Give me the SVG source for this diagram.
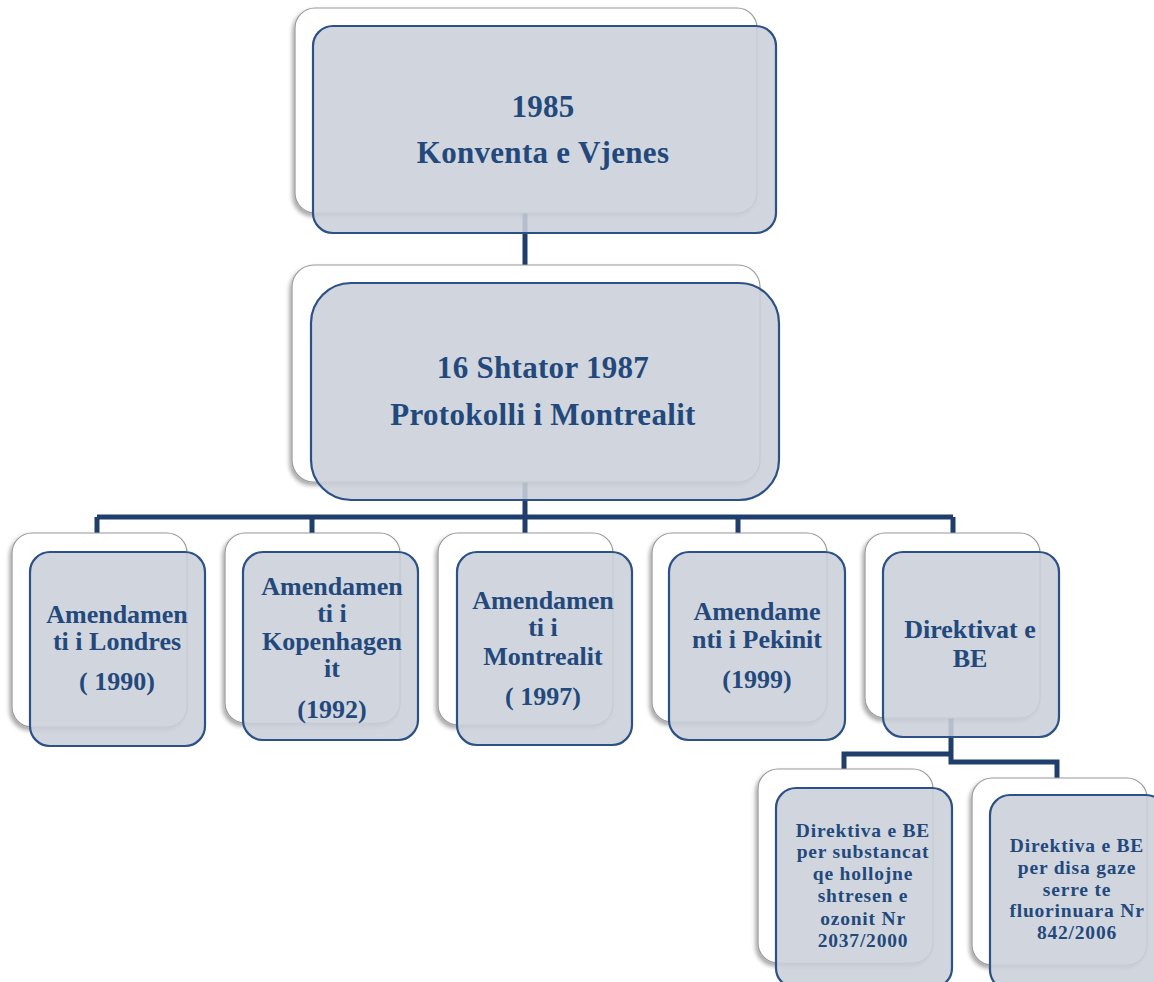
<svg xmlns="http://www.w3.org/2000/svg" width="1154" height="982" viewBox="0 0 1154 982">
<defs>
<filter id="sh" x="-10%" y="-10%" width="120%" height="120%">
<feDropShadow dx="-2" dy="3" stdDeviation="2" flood-color="#000" flood-opacity="0.35"/>
</filter>
<style>
.back{fill:#fff;stroke:#9a9a9a;stroke-width:1.2;filter:url(#sh)}
.front{fill:#cbd0d9;fill-opacity:0.88;stroke:#2b5186;stroke-width:2.2}
.t{font-family:"Liberation Serif","Times New Roman",serif;font-weight:bold;fill:#23497c;text-anchor:middle}
.l{font-size:31px;letter-spacing:0.3px}
.m{font-size:26px}
.s{font-size:19.5px;letter-spacing:0.8px}
.c{fill:none;stroke:#1f3e6c;stroke-width:5;stroke-linejoin:miter}
</style>
</defs>
<rect width="1154" height="982" fill="#fff"/>
<g id="connectors">
<path class="c" d="M525 213V285"/>
<path class="c" d="M525 480V517M97 517H953M97 517V537M312 517V537M525 517V537M738 517V537M953 517V537"/>
<path class="c" d="M951 715V754H844V772M951 754V762H1057V780"/>
</g>
<g id="n1985">
<rect class="back" x="295" y="8" width="462" height="205" rx="20"/>
<rect class="front" x="313" y="26" width="463" height="207" rx="20"/>
<text class="t l" x="543" y="117">1985</text>
<text class="t l" x="543" y="163">Konventa e Vjenes</text>
</g>
<g id="n1987">
<rect class="back" x="292" y="265" width="468" height="217" rx="22"/>
<rect class="front" x="311" y="283" width="468" height="217" rx="40"/>
<text class="t l" x="543" y="378">16 Shtator 1987</text>
<text class="t l" x="543" y="425">Protokolli i Montrealit</text>
</g>
<g id="londres">
<rect class="back" x="12" y="533" width="175" height="194" rx="20"/>
<rect class="front" x="30" y="552" width="175" height="194" rx="20"/>
<text class="t m" x="117" y="623">Amendamen</text>
<text class="t m" x="117" y="650">ti i Londres</text>
<text class="t m" x="117" y="690">( 1990)</text>
</g>
<g id="kopenhagen">
<rect class="back" x="225" y="533" width="175" height="190" rx="20"/>
<rect class="front" x="243" y="552" width="175" height="188" rx="20"/>
<text class="t m" x="332" y="595">Amendamen</text>
<text class="t m" x="332" y="622">ti i</text>
<text class="t m" x="332" y="650">Kopenhagen</text>
<text class="t m" x="332" y="677">it</text>
<text class="t m" x="332" y="718">(1992)</text>
</g>
<g id="montrealit">
<rect class="back" x="438" y="533" width="175" height="192" rx="20"/>
<rect class="front" x="457" y="552" width="175" height="193" rx="20"/>
<text class="t m" x="543" y="609">Amendamen</text>
<text class="t m" x="543" y="636">ti i</text>
<text class="t m" x="543" y="665">Montrealit</text>
<text class="t m" x="543" y="705">( 1997)</text>
</g>
<g id="pekinit">
<rect class="back" x="652" y="533" width="175" height="189" rx="20"/>
<rect class="front" x="669" y="552" width="176" height="188" rx="20"/>
<text class="t m" x="757" y="620">Amendame</text>
<text class="t m" x="757" y="648">nti i Pekinit</text>
<text class="t m" x="757" y="688">(1999)</text>
</g>
<g id="direktivat">
<rect class="back" x="865" y="533" width="175" height="185" rx="20"/>
<rect class="front" x="883" y="552" width="176" height="185" rx="20"/>
<text class="t m" x="970" y="638">Direktivat  e</text>
<text class="t m" x="970" y="667">BE</text>
</g>
<g id="dir2037">
<rect class="back" x="758" y="769" width="175" height="194" rx="20"/>
<rect class="front" x="776" y="788" width="176" height="200" rx="20"/>
<text class="t s" x="863" y="837">Direktiva e BE</text>
<text class="t s" x="863" y="858">per substancat</text>
<text class="t s" x="863" y="880">qe hollojne</text>
<text class="t s" x="863" y="902">shtresen e</text>
<text class="t s" x="863" y="925">ozonit Nr</text>
<text class="t s" x="863" y="947">2037/2000</text>
</g>
<g id="dir842">
<rect class="back" x="972" y="778" width="175" height="187" rx="20"/>
<rect class="front" x="990" y="795" width="176" height="195" rx="20"/>
<text class="t s" x="1077" y="852">Direktiva e BE</text>
<text class="t s" x="1077" y="874">per disa gaze</text>
<text class="t s" x="1077" y="896">serre te</text>
<text class="t s" x="1077" y="917">fluorinuara Nr</text>
<text class="t s" x="1077" y="939">842/2006</text>
</g>
</svg>
